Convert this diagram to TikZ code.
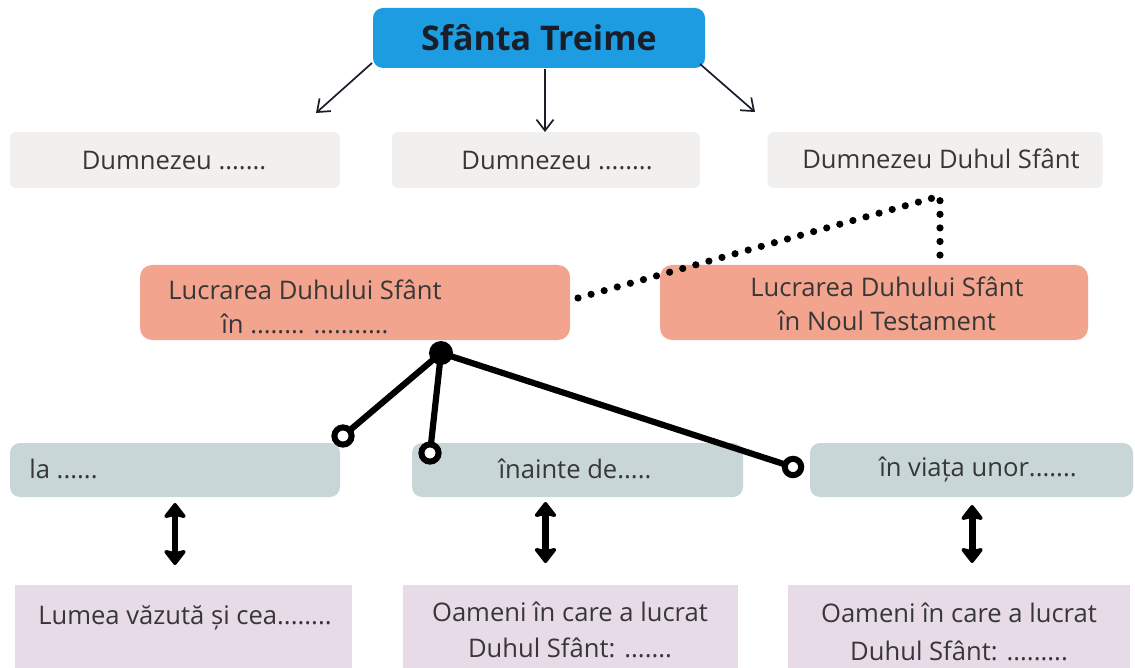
\documentclass[tikz,border=0pt]{standalone}
\usepackage{fontspec}
\setmainfont{Open Sans}
\usetikzlibrary{arrows.meta}
\definecolor{cblue}{RGB}{30,156,226}
\definecolor{cgray}{RGB}{242,240,238}
\definecolor{csalmon}{RGB}{243,164,142}
\definecolor{cteal}{RGB}{200,214,215}
\definecolor{clilac}{RGB}{231,219,231}
\definecolor{ctext}{RGB}{55,55,55}
\definecolor{cdark}{RGB}{25,30,40}
\tikzset{
  boxbase/.style={draw=none, inner sep=0pt, outer sep=0pt},
  graybox/.style={boxbase, fill=cgray, rounded corners=3pt, minimum height=28pt},
  salbox/.style={boxbase, fill=csalmon, rounded corners=6pt, minimum width=215pt, minimum height=37.5pt},
  tealbox/.style={boxbase, fill=cteal, rounded corners=5pt, minimum height=27pt},
  lilbox/.style={boxbase, fill=clilac, minimum height=50pt},
  txt/.style={text=ctext, font=\fontsize{12.8}{17}\selectfont, align=center, inner sep=0pt},
  toparrow/.style={draw=cdark, line width=0.85pt, -{Straight Barb[length=5.5pt,width=8.5pt]}},
  hubline/.style={line width=3.1pt, draw=black},
  opencirc/.style={draw=black, fill=white, line width=3pt},
  dblarrow/.style={line width=3.4pt, {Stealth[length=8.5pt,width=13pt,inset=1.5pt,round]}-{Stealth[length=8.5pt,width=13pt,inset=1.5pt,round]}},
  dotline/.style={line width=3.6pt, line cap=round, dash pattern=on 0pt off 6.8pt}
}
\begin{document}
\begin{tikzpicture}[x=0.5pt,y=-0.5pt]
\useasboundingbox (0,0) rectangle (1135,668);
\clip (0,0) rectangle (1135,668);
\fill[white] (0,0) rectangle (1135,668);

% top node
\node[boxbase, fill=cblue, rounded corners=5pt, minimum width=166pt, minimum height=30pt,
      text=cdark, font=\fontsize{17}{20}\selectfont\bfseries] (top) at (539,38) {Sfânta Treime};

% gray row
\node[graybox, minimum width=165pt] (g1) at (175,160) {};
\node[graybox, minimum width=154pt] (g2) at (546,160) {};
\node[graybox, minimum width=167.5pt] (g3) at (935,160) {};
\node[txt] (g1t) at (174,161) {Dumnezeu .......};
\node[txt] (g2t) at (557,161) {Dumnezeu ........};
\node[txt] (g3t) at (941,159) {Dumnezeu Duhul Sfânt};

% top arrows
\coordinate (a1s) at (372,63);
\coordinate (a1e) at (316,113);
\coordinate (a2s) at (545,69);
\coordinate (a3s) at (700,64);
\coordinate (a3e) at (755,112);
\draw[toparrow] (a1s) -- (a1e);
\draw[toparrow] (a2s) -- (a2s |- g2.north);
\draw[toparrow] (a3s) -- (a3e);

% salmon row
\node[salbox] (sL) at (355,302.5) {};
\node[txt] (sLt) at (305,307) {Lucrarea Duhului Sfânt\\în ........ ...........};
\node[salbox, minimum width=214pt] (sR) at (874,302.5) {};
\node[txt] (sRt) at (887,304) {Lucrarea Duhului Sfânt\\în Noul Testament};

% dotted connector
\coordinate (dc) at (940,196);
\coordinate (ds) at (578,298);
\draw[dotline] (ds) -- (dc) -- (dc |- sR.north);

% teal row
\node[tealbox, minimum width=165pt] (t1) at (175,470) {};
\node[tealbox, minimum width=165.5pt] (t2) at (577.5,470) {};
\node[tealbox, minimum width=161.5pt] (t3) at (971.5,470) {};
\node[txt, anchor=west] (t1t) at (29,469) {la ......};
\node[txt] (t2t) at (575,469) {înainte de.....};
\node[txt] (t3t) at (978,470) {în viața unor.......};

% hub and connectors
\coordinate (hub) at (441,353);
\coordinate (c1) at (343,436);
\coordinate (c2) at (430,453);
\coordinate (c3) at (793,467);
\draw[hubline] (hub) -- (c1);
\draw[hubline] (hub) -- (c2);
\draw[hubline] (hub) -- (c3);
\fill[black] (hub) circle (6pt);
\draw[opencirc] (c1) circle (4.3pt);
\draw[opencirc] (c2) circle (4.3pt);
\draw[opencirc] (c3) circle (4.1pt);

% lilac row
\node[lilbox, minimum width=168.5pt] (l1) at (183.5,635) {};
\node[lilbox, minimum width=167.5pt] (l2) at (570.5,635) {};
\node[lilbox, minimum width=171pt] (l3) at (959,635) {};
\node[txt] (l1t) at (185,618) {Lumea văzută și cea........};
\node[txt, font=\fontsize{12.8}{18}\selectfont] (l2t) at (570,630) {Oameni în care a lucrat\\Duhul Sfânt: .......};
\node[txt, font=\fontsize{12.8}{19}\selectfont] (l3t) at (959,632) {Oameni în care a lucrat\\Duhul Sfânt: .........};

% double arrows
\draw[dblarrow, shorten <=3pt, shorten >=10pt] ([xshift=0pt]t1.south) -- ([xshift=0pt]t1.south |- l1.north);
\draw[dblarrow, shorten <=2.5pt, shorten >=11pt] ([xshift=-16pt]t2.south) -- ([xshift=-16pt]t2.south |- l2.north);
\draw[dblarrow, shorten <=4pt, shorten >=11pt] ([xshift=0.3pt]t3.south) -- ([xshift=0.3pt]t3.south |- l3.north);
\end{tikzpicture}
\end{document}
